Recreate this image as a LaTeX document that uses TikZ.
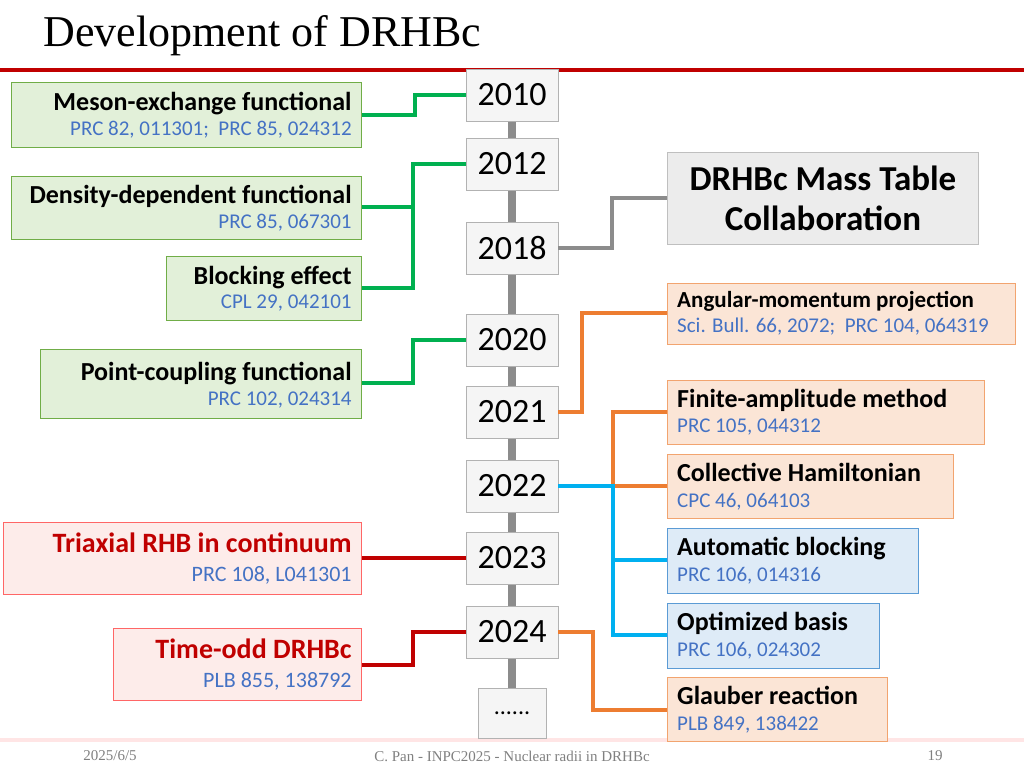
\documentclass[tikz,border=0pt]{standalone}
\usepackage{fontspec}
\setmainfont{Carlito}
\newfontfamily\serif{Liberation Serif}
\usetikzlibrary{positioning}
\definecolor{cite}{HTML}{4472C4}
\definecolor{grn}{HTML}{00B050}
\definecolor{grnfill}{HTML}{E2F0D9}
\definecolor{grnline}{HTML}{70AD47}
\definecolor{redline}{HTML}{C00000}
\definecolor{redfill}{HTML}{FDECEA}
\definecolor{orn}{HTML}{ED7D31}
\definecolor{ornfill}{HTML}{FBE5D6}
\definecolor{cyn}{HTML}{00B0F0}
\definecolor{blufill}{HTML}{DEEBF7}
\definecolor{bluline}{HTML}{5B9BD5}
\begin{document}
\begin{tikzpicture}[x=1pt, y=-1pt,
  year/.style={draw=gray!60, fill=gray!8, minimum width=92pt, minimum height=52pt, font=\fontsize{34}{34}\selectfont},
  box/.style={anchor=north west, draw, line width=0.8pt, inner sep=0pt},
  lbl/.style={font=\bfseries\fontsize{26}{26}\selectfont, inner sep=0pt},
  ref/.style={font=\fontsize{21}{21}\selectfont, text=cite, inner sep=0pt},
  link/.style={line width=4pt}
]
\useasboundingbox (0,0) rectangle (1024,768);
% --- title and footer ---
\node[anchor=west, font=\serif\fontsize{44}{44}\selectfont] (title) at (40,36) {Development of DRHBc};
\fill[redline] (0,68) rectangle (1024,72);
\fill[red!10] (0,738) rectangle (1024,742);
\node[font=\serif\fontsize{15}{15}\selectfont, text=gray] (date) at (110,756) {2025/6/5};
\node[font=\serif\fontsize{15}{15}\selectfont, text=gray] (foot) at (512,756) {C. Pan - INPC2025 - Nuclear radii in DRHBc};
\node[font=\serif\fontsize{15}{15}\selectfont, text=gray] (page) at (935,756) {19};

% --- timeline ---
\fill[gray!90] (508,95) rectangle (516,713);
\node[year] (y10) at (512,95)  {2010};
\node[year] (y12) at (512,164) {2012};
\node[year] (y18) at (512,248) {2018};
\node[year] (y20) at (512,340) {2020};
\node[year] (y21) at (512,412) {2021};
\node[year] (y22) at (512,486) {2022};
\node[year] (y23) at (512,558) {2023};
\node[year] (y24) at (512,632) {2024};
\node[year, minimum width=68pt, minimum height=50pt] (ydots) at (512,713) {\fontsize{24}{24}\selectfont......};

% --- left boxes ---
\node[box, draw=grnline, fill=grnfill, minimum width=350pt, minimum height=65pt] (meson) at (11,82) {};
\node[lbl, anchor=north east] at ([shift={(-10,10)}]meson.north east) {Meson-exchange functional};
\node[ref, anchor=north east] at ([shift={(-10,39)}]meson.north east) {PRC 82, 011301;\ \ PRC 85, 024312};

\node[box, draw=grnline, fill=grnfill, minimum width=350pt, minimum height=63pt] (dens) at (11,176) {};
\node[lbl, anchor=north east] at ([shift={(-10,9)}]dens.north east) {Density-dependent functional};
\node[ref, anchor=north east] at ([shift={(-10,38)}]dens.north east) {PRC 85, 067301};

\node[box, draw=grnline, fill=grnfill, minimum width=195pt, minimum height=64pt] (block) at (166,256) {};
\node[lbl, anchor=north east] at ([shift={(-10,10)}]block.north east) {Blocking effect};
\node[ref, anchor=north east] at ([shift={(-10,39)}]block.north east) {CPL 29, 042101};

\node[box, draw=grnline, fill=grnfill, minimum width=321pt, minimum height=69pt] (point) at (40,349) {};
\node[lbl, anchor=north east] at ([shift={(-10,13)}]point.north east) {Point-coupling functional};
\node[ref, anchor=north east] at ([shift={(-10,43)}]point.north east) {PRC 102, 024314};

\node[box, draw=red!60, fill=redfill, minimum width=358pt, minimum height=72pt] (triax) at (3,522) {};
\node[lbl, anchor=north east, text=redline, font=\bfseries\fontsize{28}{28}\selectfont] at ([shift={(-10,11)}]triax.north east) {Triaxial RHB in continuum};
\node[ref, anchor=north east, font=\fontsize{22}{22}\selectfont] at ([shift={(-10,44)}]triax.north east) {PRC 108, L041301};

\node[box, draw=red!60, fill=redfill, minimum width=248pt, minimum height=72pt] (todd) at (113,628) {};
\node[lbl, anchor=north east, text=redline, font=\bfseries\fontsize{28}{28}\selectfont] at ([shift={(-10,11)}]todd.north east) {Time-odd DRHBc};
\node[ref, anchor=north east, font=\fontsize{22}{22}\selectfont] at ([shift={(-10,44)}]todd.north east) {PLB 855, 138792};

% --- right boxes ---
\node[box, draw=gray!50, fill=gray!15, minimum width=311pt, minimum height=92pt] (mass) at (667,152) {};
\node[font=\bfseries\fontsize{35}{40}\selectfont, align=center] at (mass.center) {DRHBc Mass Table\\Collaboration};

\node[box, draw=orn!70, fill=ornfill, minimum width=348pt, minimum height=61pt] (amp) at (667,283) {};
\node[lbl, anchor=north west, font=\bfseries\fontsize{23}{23}\selectfont] at ([shift={(10,8)}]amp.north west) {Angular-momentum projection};
\node[ref, anchor=north west] at ([shift={(10,35)}]amp.north west) {Sci. Bull. 66, 2072;\ \ PRC 104, 064319};

\node[box, draw=orn!70, fill=ornfill, minimum width=317pt, minimum height=64pt] (fam) at (667,380) {};
\node[lbl, anchor=north west] at ([shift={(10,9)}]fam.north west) {Finite-amplitude method};
\node[ref, anchor=north west] at ([shift={(10,39)}]fam.north west) {PRC 105, 044312};

\node[box, draw=orn!70, fill=ornfill, minimum width=286pt, minimum height=64pt] (coll) at (667,454) {};
\node[lbl, anchor=north west] at ([shift={(10,9)}]coll.north west) {Collective Hamiltonian};
\node[ref, anchor=north west] at ([shift={(10,39)}]coll.north west) {CPC 46, 064103};

\node[box, draw=bluline, fill=blufill, minimum width=251pt, minimum height=65pt] (auto) at (667,528) {};
\node[lbl, anchor=north west] at ([shift={(10,9)}]auto.north west) {Automatic blocking};
\node[ref, anchor=north west] at ([shift={(10,39)}]auto.north west) {PRC 106, 014316};

\node[box, draw=bluline, fill=blufill, minimum width=212pt, minimum height=65pt] (optb) at (667,603) {};
\node[lbl, anchor=north west] at ([shift={(10,9)}]optb.north west) {Optimized basis};
\node[ref, anchor=north west] at ([shift={(10,39)}]optb.north west) {PRC 106, 024302};

\node[box, draw=orn!70, fill=ornfill, minimum width=220pt, minimum height=64pt] (glau) at (667,677) {};
\node[lbl, anchor=north west] at ([shift={(10,9)}]glau.north west) {Glauber reaction};
\node[ref, anchor=north west] at ([shift={(10,39)}]glau.north west) {PLB 849, 138422};

% --- links ---
\draw[link, grn] (y10.west) -| (415,115) -- (meson.east |- 0,115);
\draw[link, grn] (y12.west) -| (413,207) -- (dens.east |- 0,207);
\draw[link, grn] (413,205) |- (block.east |- 0,288);
\draw[link, grn] (y20.west) -| (413,383) -- (point.east |- 0,383);
\draw[link, redline] (y23.west |- 0,558) -- (triax.east |- 0,558);
\draw[link, redline] (y24.west) -| (413,665) -- (todd.east |- 0,665);
\draw[link, gray!90] (y18.east) -| (612,198) -- (mass.west |- 0,198);
\draw[link, orn] (y21.east) -| (582,313) -- (amp.west |- 0,313);
\draw[link, orn] (coll.west |- 0,486) -| (613,412) -- (fam.west |- 0,412);
\draw[link, cyn] (y22.east) -| (613,635) -- (optb.west |- 0,635);
\draw[link, cyn] (613,560) -- (auto.west |- 0,560);
\draw[link, orn] (y24.east) -| (593,710) -- (glau.west |- 0,710);
\end{tikzpicture}
\end{document}
